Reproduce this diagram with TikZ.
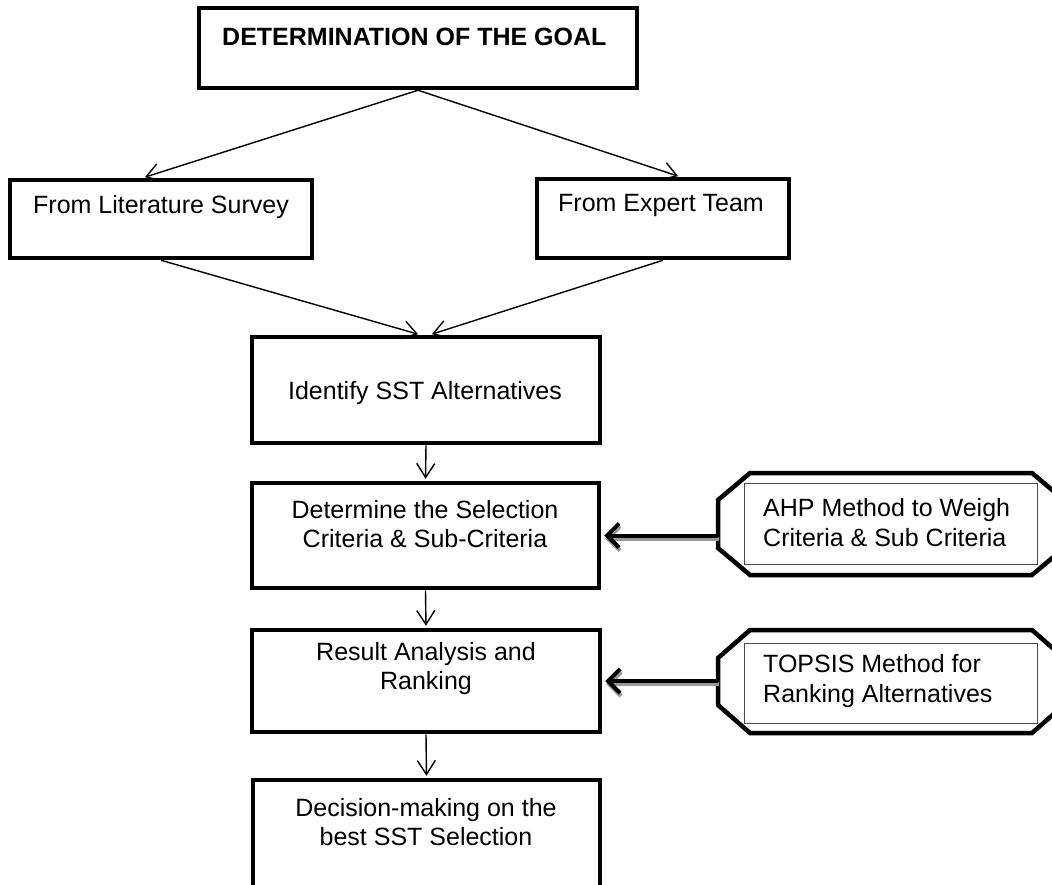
\documentclass[tikz,border=0pt]{standalone}
\usepackage{fontspec}
\setmainfont{Liberation Sans}
\usetikzlibrary{arrows.meta,calc}
\begin{document}
\begin{tikzpicture}[x=1pt,y=-1pt,
  box/.style={draw, line width=4.5pt, inner sep=0pt},
  lbl/.style={font=\fontsize{25}{29}\selectfont, inner sep=0pt, align=center},
  lbll/.style={font=\fontsize{25}{30}\selectfont, inner sep=0pt, align=left, anchor=west},
  conn/.style={line width=1.4pt, -{Straight Barb[length=14pt,width=18pt]}, shorten >=2pt},
  heavyarr/.style={line width=4pt, -{Straight Barb[length=12pt,width=24pt]}, shorten >=3pt},
  octa/.style={draw, line width=4.5pt, line join=miter},
  inbox/.style={draw=black!70, line width=1pt, inner sep=0pt, minimum width=293pt, minimum height=81pt}
]
\useasboundingbox (0,0) rectangle (1052,884);
\clip (0,0) rectangle (1052,884);
\fill[white] (0,0) rectangle (1052,884);

% main boxes
\node[box, minimum width=438pt, minimum height=80pt] (goal) at (418,48) {};
\node[box, minimum width=302pt, minimum height=78pt] (lit) at (161,219) {};
\node[box, minimum width=252pt, minimum height=79pt] (exp) at (663,218.5) {};
\node[box, minimum width=348pt, minimum height=106pt] (ident) at (426,390) {};
\node[box, minimum width=347pt, minimum height=105pt] (det) at (425.5,535.5) {};
\node[box, minimum width=348pt, minimum height=102pt] (res) at (426,681) {};
\node[box, minimum width=347pt, minimum height=120pt] (dec) at (426.5,840) {};

% texts
\node[inner sep=0pt, anchor=west, font=\fontsize{25}{29}\selectfont\bfseries] (goaltxt) at (222,37) {DETERMINATION OF THE GOAL};
\node[lbl, anchor=west] (littxt) at (33,207) {From Literature Survey};
\node[lbl, anchor=west] (exptxt) at (558,205) {From Expert Team};
\node[lbl] (identtxt) at (425,393) {Identify SST Alternatives};
\node[lbl] (dettxt) at (425,524) {Determine the Selection\\Criteria \& Sub-Criteria};
\node[lbl] (restxt) at (426,669) {Result Analysis and\\Ranking};
\node[lbl] (dectxt) at (426,822) {Decision-making on the\\best SST Selection};

% octagons
\draw[octa] (718,500) -- (750,473) -- (1032,473) -- (1064,500) -- (1064,548) -- (1032,575) -- (750,575) -- (718,548) -- cycle;
\draw[octa] (718,658) -- (750,630) -- (1032,630) -- (1064,658) -- (1064,705) -- (1032,733) -- (750,733) -- (718,705) -- cycle;
\node[inbox] (ahp) at (890.5,523.5) {};
\node[inbox, minimum height=80pt] (topsis) at (890.5,683) {};
\node[lbll] (ahptxt) at (763,523) {AHP Method to Weigh\\Criteria \& Sub Criteria};
\node[lbll] (topsistxt) at (763,681) {TOPSIS Method for\\Ranking Alternatives};
\coordinate (ahpL) at (718,535.5);
\coordinate (topsisL) at (718,681);

% connectors
\draw[conn] (goal.south) -- ($(lit.north)+(-18,0)$);
\draw[conn] (goal.south) -- ($(exp.north)+(17,0)$);
\draw[conn] (lit.south) -- ($(ident.north)+(-6,0)$);
\draw[conn] (exp.south) -- ($(ident.north)+(4,0)$);
\draw[conn] (ident.south) -- (det.north);
\draw[conn] (det.south) -- (res.north);
\draw[conn] (res.south) -- (dec.north);

% heavy arrows with shadow
\draw[heavyarr, black!40] ($(ahpL)+(1,3)$) -- ($(det.east)+(1,3)$);
\draw[heavyarr] (ahpL) -- (det.east);
\draw[heavyarr, black!40] ($(topsisL)+(1,3)$) -- ($(res.east)+(1,3)$);
\draw[heavyarr] (topsisL) -- (res.east);
\end{tikzpicture}
\end{document}
